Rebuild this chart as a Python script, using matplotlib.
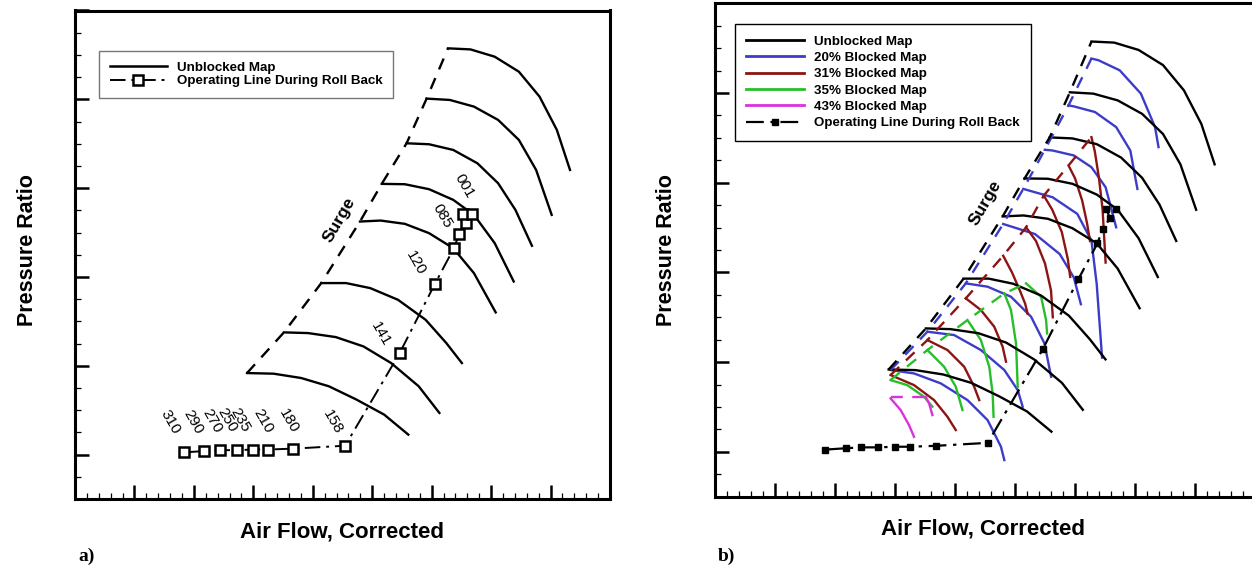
import matplotlib
matplotlib.use("Agg")
import matplotlib.pyplot as plt
from matplotlib.ticker import MultipleLocator
from matplotlib.lines import Line2D

plt.rcParams['font.family'] = ['Liberation Sans', 'DejaVu Sans']

# ---------------- data (arbitrary map units) ----------------
# Unblocked speed lines (same map in both panels), surge end first
unb_x = [
    [6.275, 6.653, 7.06, 7.467, 7.815, 8.106, 8.327],
    [5.915, 6.305, 6.711, 7.118, 7.467, 7.757, 8.019],
    [5.578, 5.956, 6.363, 6.769, 7.118, 7.409, 7.687],
    [5.16, 5.549, 5.956, 6.363, 6.711, 7.06, 7.38],
    [4.794, 5.142, 5.549, 5.956, 6.363, 6.711, 7.077],
    [4.143, 4.561, 4.968, 5.433, 5.898, 6.246, 6.508],
    [3.515, 3.922, 4.387, 4.852, 5.317, 5.782, 6.13],
    [2.894, 3.341, 3.806, 4.271, 4.736, 5.201, 5.607],
]
unb_y = [
    [4.574, 4.562, 4.48, 4.311, 4.03, 3.655, 3.205],
    [4.008, 3.993, 3.918, 3.768, 3.543, 3.205, 2.699],
    [3.505, 3.494, 3.43, 3.28, 3.055, 2.755, 2.351],
    [3.048, 3.044, 2.988, 2.868, 2.699, 2.381, 1.949],
    [2.624, 2.635, 2.598, 2.493, 2.324, 2.043, 1.601],
    [1.931, 1.931, 1.874, 1.743, 1.518, 1.256, 1.031],
    [1.376, 1.368, 1.323, 1.218, 1.031, 0.769, 0.469],
    [0.918, 0.911, 0.862, 0.769, 0.619, 0.45, 0.225],
]

# Operating line during roll back
op_x = [1.84, 2.177, 2.441, 2.722, 3.002, 3.244, 3.675, 4.545,
        5.462, 6.055, 6.374, 6.461, 6.583, 6.52, 6.682]
op_y = [0.025, 0.04, 0.05, 0.05, 0.057, 0.057, 0.067, 0.1,
        1.143, 1.923, 2.324, 2.482, 2.605, 2.707, 2.707]

# speed labels (left panel)
spd_text = ['310', '290', '270', '250', '235', '210', '180', '158',
            '141', '120', '085', '001']
spd_x = [1.6, 1.99, 2.30, 2.56, 2.78, 3.17, 3.59, 4.34, 5.14, 5.74, 6.18, 6.55]
spd_y = [0.37, 0.37, 0.38, 0.39, 0.39, 0.38, 0.38, 0.37, 1.36, 2.16, 2.69, 3.02]

# 20% blocked map
b20_x = [
    [6.274, 6.392, 6.745, 7.098, 7.334, 7.392],
    [5.892, 5.98, 6.333, 6.686, 6.922, 7.04],
    [5.497, 5.627, 5.98, 6.274, 6.51, 6.686],
    [5.138, 5.627, 6.039, 6.274, 6.362, 6.451],
    [4.803, 5.333, 5.745, 5.98, 6.098],
    [4.18, 4.543, 4.933, 5.268, 5.491, 5.602],
    [3.54, 3.985, 4.431, 4.822, 5.045, 5.128],
    [2.926, 3.317, 3.763, 4.208, 4.543, 4.766, 4.822],
]
b20_y = [
    [4.384, 4.365, 4.253, 3.993, 3.62, 3.397],
    [3.862, 3.851, 3.788, 3.62, 3.359, 2.931],
    [3.367, 3.359, 3.304, 3.173, 2.95, 2.503],
    [2.931, 2.838, 2.652, 2.354, 1.87, 1.05],
    [2.54, 2.428, 2.205, 1.944, 1.646],
    [1.878, 1.841, 1.729, 1.506, 1.209, 0.837],
    [1.339, 1.302, 1.135, 0.912, 0.689, 0.503],
    [0.912, 0.874, 0.763, 0.577, 0.354, 0.057, -0.092],
]

# 31% blocked map
b31_x = [
    [6.274, 6.33, 6.40, 6.46, 6.51],
    [5.892, 6.0, 6.12, 6.2, 6.25],
    [5.48, 5.62, 5.78, 5.88, 5.92],
    [5.185, 5.35, 5.5, 5.6, 5.63],
    [4.803, 4.95, 5.08, 5.17, 5.21],
    [4.18, 4.431, 4.654, 4.794, 4.85],
    [3.54, 3.874, 4.153, 4.32, 4.404],
    [2.926, 3.317, 3.651, 3.874, 4.013],
]
b31_y = [
    [3.508, 3.35, 3.05, 2.70, 2.11],
    [3.192, 3.05, 2.8, 2.55, 2.35],
    [2.857, 2.7, 2.45, 2.15, 1.95],
    [2.503, 2.35, 2.1, 1.8, 1.5],
    [2.186, 2.0, 1.8, 1.65, 1.54],
    [1.711, 1.581, 1.395, 1.172, 1.005],
    [1.246, 1.135, 0.949, 0.726, 0.577],
    [0.856, 0.744, 0.577, 0.391, 0.243],
]

# 35% blocked map
b35_x = [
    [5.184, 5.435, 5.518, 5.535],
    [4.822, 4.933, 5.017, 5.045],
    [4.208, 4.431, 4.571, 4.627, 4.643],
    [3.54, 3.818, 4.013, 4.125],
    [2.926, 3.205, 3.484, 3.623],
]
b35_y = [
    [1.878, 1.729, 1.469, 1.32],
    [1.766, 1.581, 1.209, 0.726],
    [1.469, 1.246, 0.949, 0.651, 0.391],
    [1.135, 0.949, 0.726, 0.466],
    [0.8, 0.744, 0.614, 0.503],
]

# 43% blocked map
b43_x = [
    [3.512, 3.568, 3.623],
    [2.926, 3.094, 3.233, 3.317],
]
b43_y = [
    [0.614, 0.54, 0.41],
    [0.596, 0.466, 0.299, 0.168],
]

C_BLUE = '#3c3cc8'
C_RED = '#8c1414'
C_GREEN = '#28be28'
C_MAG = '#dc32dc'

W, H = 1252, 578
fig = plt.figure(figsize=(W / 100, H / 100), dpi=100)
axL = fig.add_axes([75 / W, (H - 499) / H, 535 / W, 488.5 / H])
axR = fig.add_axes([715 / W, (H - 496.7) / H, 540 / W, 493.4 / H])

for ax in (axL, axR):
    ax.set_xlim(0, 9)
    ax.set_ylim(-0.5, 5)
    ax.xaxis.set_major_locator(MultipleLocator(1))
    ax.xaxis.set_minor_locator(MultipleLocator(0.2))
    ax.yaxis.set_major_locator(MultipleLocator(1))
    ax.yaxis.set_minor_locator(MultipleLocator(0.25))
    ax.tick_params(which='both', direction='in', top=False, right=False,
                   labelleft=False, labelbottom=False, color='black')
    ax.tick_params(which='major', length=10, width=1.8)
    ax.tick_params(which='minor', length=4.5, width=0.9)
    for s in ax.spines.values():
        s.set_linewidth(2.2)

SURGE_DASH = (0, (5, 4))
OP_DASH = (0, (8, 3, 1.5, 3))


def surge_pts(xs, ys):
    return [c[0] for c in xs][::-1], [c[0] for c in ys][::-1]


# ---------- left panel ----------
for xs, ys in zip(unb_x, unb_y):
    axL.plot(xs, ys, color='black', lw=1.7)
sx, sy = surge_pts(unb_x, unb_y)
axL.plot(sx, sy, color='black', lw=1.7, linestyle=SURGE_DASH)
axL.plot(op_x, op_y, color='black', lw=1.4, linestyle=OP_DASH,
         marker='s', markersize=7, markerfacecolor='white',
         markeredgecolor='black', markeredgewidth=1.8)
for t, x, y in zip(spd_text, spd_x, spd_y):
    axL.text(x, y, t, rotation=-60, ha='center', va='center', fontsize=11)
axL.text(4.45, 2.64, 'Surge', rotation=60, ha='center', va='center',
         fontsize=12.5, fontweight='bold')

hL = [Line2D([], [], color='black', lw=1.8),
      Line2D([], [], color='black', lw=1.4, linestyle=OP_DASH, marker='s',
             markersize=6.5, markerfacecolor='white', markeredgecolor='black',
             markeredgewidth=1.8)]
legL = axL.legend(hL, ['Unblocked Map', 'Operating Line During Roll Back'],
                  loc='upper left', bbox_to_anchor=(0.045, 0.918),
                  borderaxespad=0, fancybox=False, framealpha=1,
                  edgecolor='#777777', handlelength=4.3, handletextpad=0.75,
                  labelspacing=0.1, borderpad=0.8,
                  prop={'weight': 'bold', 'size': 9.6})
legL.get_frame().set_linewidth(1.0)

# ---------- right panel ----------
for xs, ys in zip(b20_x, b20_y):
    axR.plot(xs, ys, color=C_BLUE, lw=1.7)
for xs, ys in zip(b31_x, b31_y):
    axR.plot(xs, ys, color=C_RED, lw=1.7)
for xs, ys in zip(b35_x, b35_y):
    axR.plot(xs, ys, color=C_GREEN, lw=1.7)
for xs, ys in zip(b43_x, b43_y):
    axR.plot(xs, ys, color=C_MAG, lw=1.7)
for xs, ys in zip(unb_x, unb_y):
    axR.plot(xs, ys, color='black', lw=1.7)

sx, sy = surge_pts(b20_x, b20_y)
axR.plot(sx, sy, color=C_BLUE, lw=1.7, linestyle=SURGE_DASH)
sx, sy = surge_pts(b31_x, b31_y)
axR.plot(sx, sy, color=C_RED, lw=1.7, linestyle=SURGE_DASH)
sx, sy = surge_pts(b35_x, b35_y)
axR.plot(sx, sy, color=C_GREEN, lw=1.7, linestyle=SURGE_DASH)
axR.plot([b43_x[1][0], b43_x[0][0]], [b43_y[0][0], b43_y[0][0]],
         color=C_MAG, lw=1.7, linestyle=SURGE_DASH)
sx, sy = surge_pts(unb_x, unb_y)
axR.plot(sx, sy, color='black', lw=1.7, linestyle=SURGE_DASH)

axR.plot(op_x, op_y, color='black', lw=1.6, linestyle=OP_DASH,
         marker='s', markersize=5, markerfacecolor='black',
         markeredgecolor='black')
axR.text(4.5, 2.78, 'Surge', rotation=60, ha='center', va='center',
         fontsize=12.5, fontweight='bold')

hR = [Line2D([], [], color='black', lw=2),
      Line2D([], [], color=C_BLUE, lw=2),
      Line2D([], [], color=C_RED, lw=2),
      Line2D([], [], color=C_GREEN, lw=2),
      Line2D([], [], color=C_MAG, lw=2),
      Line2D([], [], color='black', lw=1.6, linestyle=OP_DASH, marker='s',
             markersize=5, markerfacecolor='black')]
legR = axR.legend(hR, ['Unblocked Map', '20% Blocked Map', '31% Blocked Map',
                       '35% Blocked Map', '43% Blocked Map',
                       'Operating Line During Roll Back'],
                  loc='upper left', bbox_to_anchor=(0.037, 0.958),
                  borderaxespad=0, fancybox=False, framealpha=1,
                  edgecolor='black', handlelength=4.3, handletextpad=0.75,
                  labelspacing=0.3, borderpad=0.85,
                  prop={'weight': 'bold', 'size': 9.6})
legR.get_frame().set_linewidth(1.0)

# axis titles and panel tags
for cx, cy in ((28 / W, 1 - 250 / H), (667 / W, 1 - 250 / H)):
    fig.text(cx, cy, 'Pressure Ratio', rotation=90, ha='center', va='center',
             fontsize=15.5, fontweight='bold')
for cx, cy in ((342 / W, 1 - 532 / H), (983 / W, 1 - 529 / H)):
    fig.text(cx, cy, 'Air Flow, Corrected', ha='center', va='center',
             fontsize=16, fontweight='bold')
fig.text(78 / W, 1 - 556 / H, 'a)', family='Liberation Serif',
         fontsize=14, fontweight='bold', ha='left', va='center')
fig.text(718 / W, 1 - 556 / H, 'b)', family='Liberation Serif',
         fontsize=14, fontweight='bold', ha='left', va='center')

fig.savefig('out.png', dpi=100)
